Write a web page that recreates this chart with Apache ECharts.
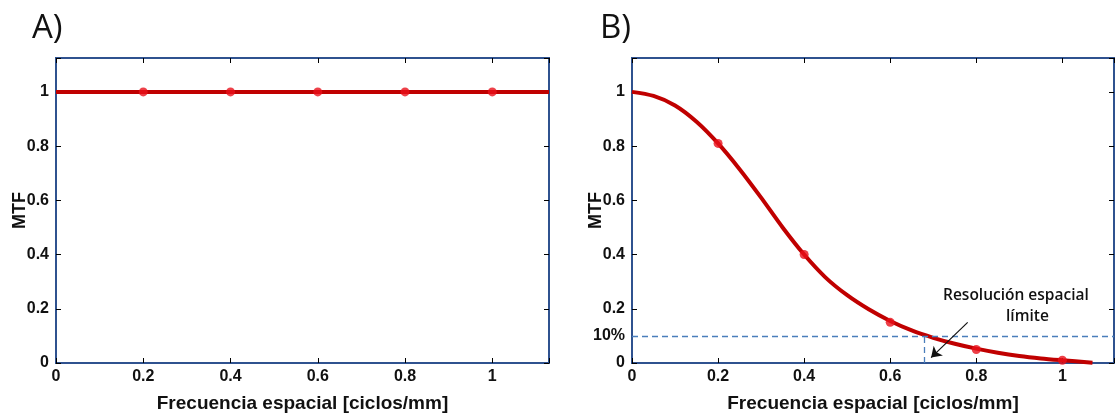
<!DOCTYPE html>
<html>
<head>
<meta charset="utf-8">
<script src="https://cdn.jsdelivr.net/npm/echarts@6/dist/echarts.min.js"></script>
<style>
  html, body { margin: 0; padding: 0; background: #fff; }
  #chart { width: 1117px; height: 414px; }
</style>
</head>
<body>
<div id="chart"></div>
<script>
// eje y / eje x (valores de marcas)
const xTicks = [0, 0.2, 0.4, 0.6, 0.8, 1];
const yTicks = [0, 0.2, 0.4, 0.6, 0.8, 1];
const yLabelsB = [0, 0.1, 0.2, 0.4, 0.6, 0.8, 1];

// A) MTF ideal
const aLineX = [0, 1.13];
const aLineY = [1, 1];
const aMarkX = [0.2, 0.4, 0.6, 0.8, 1.0];
const aMarkY = [1, 1, 1, 1, 1];

// B) MTF real
const bCurveX = [0, 0.05, 0.1, 0.15, 0.2, 0.25, 0.3, 0.35, 0.4, 0.45, 0.5, 0.55, 0.6, 0.65, 0.7, 0.75, 0.8, 0.85, 0.9, 0.95, 1.0, 1.07];
const bCurveY = [1.0, 0.985, 0.95, 0.89, 0.81, 0.715, 0.61, 0.50, 0.40, 0.315, 0.25, 0.198, 0.155, 0.12, 0.093, 0.071, 0.053, 0.038, 0.026, 0.017, 0.01, 0.001];
const bMarkX = [0.2, 0.4, 0.6, 0.8, 1.0];
const bMarkY = [0.81, 0.40, 0.15, 0.05, 0.01];

// resolucion limite (10%)
const limitY = 0.1;
const limitX = 0.68;

const chart = echarts.init(document.getElementById('chart'));

const frame = '#2f528f';
const lbl = { fontFamily: 'Liberation Sans', fontWeight: 'bold', fontSize: 16, color: '#111' };
const nameStyle = { fontFamily: 'Liberation Sans', fontWeight: 'bold', fontSize: 19, color: '#111' };
const tick = { show: true, inside: true, length: 5, lineStyle: { color: '#000', width: 1 } };
const axLine = { show: true, onZero: false, lineStyle: { color: frame, width: 2 } };

function pairs (xs, ys) {
  return xs.map((x, i) => [x, ys[i]]);
}

function xAxes (grid, max) {
  return [
    {
      gridIndex: grid, type: 'value', min: 0, max: max, interval: 0.2, position: 'bottom',
      name: 'Frecuencia espacial [ciclos/mm]', nameLocation: 'middle', nameGap: 31,
      nameMoveOverlap: false,
      nameTextStyle: nameStyle,
      axisLine: axLine,
      axisTick: tick,
      axisLabel: Object.assign({ customValues: xTicks, margin: 6, formatter: v => String(v) }, lbl),
      splitLine: { show: false }
    },
    {
      gridIndex: grid, type: 'value', min: 0, max: max, interval: 0.2, position: 'top',
      axisLine: axLine,
      axisTick: tick,
      axisLabel: { show: false },
      splitLine: { show: false }
    }
  ];
}

function yAxes (grid, labels) {
  return [
    {
      gridIndex: grid, type: 'value', min: 0, max: 1.125, interval: 0.2, position: 'left',
      name: 'MTF', nameLocation: 'middle', nameGap: 27, nameRotate: 90,
      nameMoveOverlap: false,
      nameTextStyle: Object.assign({}, nameStyle, { fontSize: 18 }),
      axisLine: axLine,
      axisTick: tick,
      axisLabel: Object.assign({
        customValues: labels, margin: 7,
        formatter: v => (Math.abs(v - 0.1) < 1e-6 ? '10%' : String(v))
      }, lbl),
      splitLine: { show: false }
    },
    {
      gridIndex: grid, type: 'value', min: 0, max: 1.125, interval: 0.2, position: 'right',
      axisLine: axLine,
      axisTick: tick,
      axisLabel: { show: false },
      splitLine: { show: false }
    }
  ];
}

const option = {
  animation: false,
  grid: [
    { left: 56, top: 58, width: 493, height: 305, show: true, borderColor: frame, borderWidth: 2, containLabel: false, outerBoundsMode: 'none' },
    { left: 632, top: 58, width: 482, height: 305, show: true, borderColor: frame, borderWidth: 2, containLabel: false, outerBoundsMode: 'none' }
  ],
  xAxis: [].concat(xAxes(0, 1.13), xAxes(1, 1.12)),
  yAxis: [].concat(yAxes(0, yTicks), yAxes(1, yLabelsB)),
  graphic: [
    { type: 'text', left: 32, top: 12, style: { text: 'A)', font: '33px "Open Sans"', fill: '#111' } },
    { type: 'text', left: 600, top: 12, style: { text: 'B)', font: '33px "Open Sans"', fill: '#111' } },
    { type: 'text', left: 943, top: 288, style: { text: 'Resolución espacial', font: '600 15.5px "Open Sans"', fill: '#111' } },
    { type: 'text', left: 1006, top: 309, style: { text: 'límite', font: '600 15.5px "Open Sans"', fill: '#111' } }
  ],
  series: [
    {
      type: 'line', xAxisIndex: 0, yAxisIndex: 0,
      data: pairs(aLineX, aLineY),
      showSymbol: false, lineStyle: { color: '#c00000', width: 4 }, z: 3
    },
    {
      type: 'scatter', xAxisIndex: 0, yAxisIndex: 0,
      data: pairs(aMarkX, aMarkY),
      symbolSize: 9, itemStyle: { color: '#e8101a' }, z: 4
    },
    {
      type: 'line', xAxisIndex: 2, yAxisIndex: 2,
      data: pairs(bCurveX, bCurveY),
      smooth: 0.3, showSymbol: false, lineStyle: { color: '#c00000', width: 4 }, z: 3,
      markLine: {
        silent: true, symbol: 'none', animation: false,
        label: { show: false },
        lineStyle: { color: '#4a7ebb', type: [6, 4], width: 1.3 },
        data: [
          [{ coord: [0, limitY] }, { coord: [1.12, limitY] }],
          [{ coord: [limitX, 0] }, { coord: [limitX, limitY] }]
        ]
      }
    },
    {
      type: 'scatter', xAxisIndex: 2, yAxisIndex: 2,
      data: pairs(bMarkX, bMarkY),
      symbolSize: 9, itemStyle: { color: '#e8101a' }, z: 4,
      markLine: {
        silent: true, animation: false,
        symbol: ['none', 'arrow'], symbolSize: 10,
        label: { show: false },
        lineStyle: { color: '#111', type: 'solid', width: 1.2 },
        data: [
          [{ coord: [0.78, 0.15] }, { coord: [0.695, 0.02] }]
        ]
      }
    }
  ]
};

chart.setOption(option);
</script>
</body>
</html>
